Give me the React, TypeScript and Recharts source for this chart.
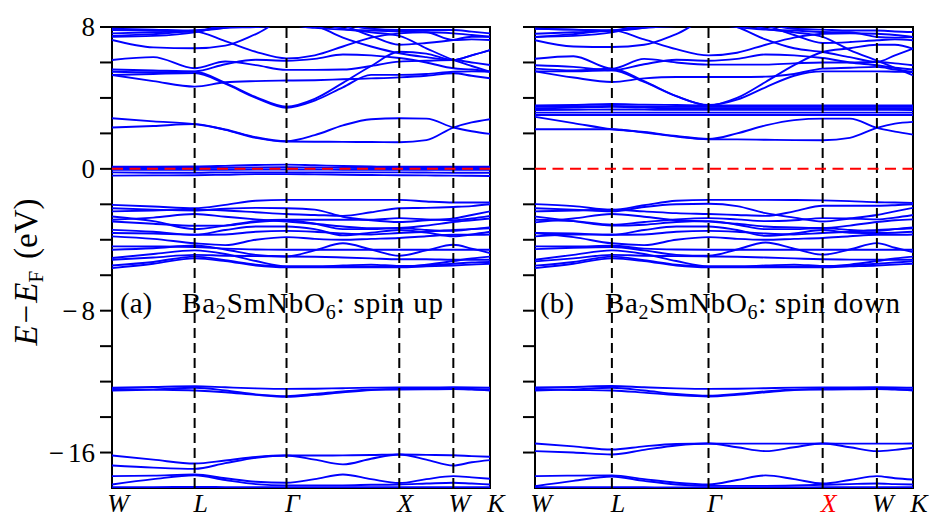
import React from 'react';
import { LineChart, Line, XAxis, YAxis, ReferenceLine, ReferenceArea } from 'recharts';

const FONT = '"Liberation Serif", "DejaVu Serif", serif';
const BLUE = '#0000ff';

// High-symmetry path
const pathLabels = ['W', 'L', 'Γ', 'X', 'W', 'K'];
const pathPosUp = [0, 0.2186, 0.4617, 0.76, 0.903, 1];
const pathPosDown = [0, 0.2034, 0.459, 0.761, 0.9045, 1];
const labelColorsUp = ['#000', '#000', '#000', '#000', '#000', '#000'];
const labelColorsDown = ['#000', '#000', '#000', '#ff0000', '#000', '#000'];
// samples: W, WL/2, L, LΓ 1/3, LΓ 2/3, Γ, ΓX 1/4, 1/2, 3/4, X, XW/2, W, WK/2, K
const segmentSamples = [[0, 0.5], [0, 1 / 3, 2 / 3], [0, 0.25, 0.5, 0.75], [0, 0.5], [0, 0.5]];
const energyTicks = [-16, -14, -12, -10, -8, -6, -4, -2, 0, 2, 4, 6, 8];
const energyDomain = [-18, 8];

// ---------- spin up ----------
const upConduction = [
  [2.33, 2.42, 2.52, 2.2, 1.75, 1.54, 1.53, 1.52, 1.51, 1.5, 1.62, 2.33, 2.62, 2.8],
  [2.85, 2.68, 2.52, 2.22, 1.78, 1.56, 1.9, 2.45, 2.8, 2.85, 2.83, 2.33, 2.12, 1.97],
  [5.48, 5.45, 5.48, 4.85, 4.05, 3.51, 3.95, 4.85, 5.8, 6.6, 6.5, 6.14, 6.4, 6.7],
  [5.29, 5.35, 5.4, 4.8, 4.0, 3.45, 3.85, 4.6, 5.3, 5.3, 5.35, 5.48, 5.5, 5.48],
  [5.29, 4.95, 4.64, 4.88, 4.95, 4.98, 5.0, 5.05, 5.1, 5.16, 5.25, 5.39, 5.25, 5.11],
  [6.14, 6.3, 5.67, 6.05, 5.85, 5.58, 5.58, 5.6, 5.8, 6.05, 6.1, 6.14, 6.0, 5.86],
  [5.6, 5.55, 5.5, 5.9, 6.15, 6.1, 6.2, 6.45, 6.4, 6.25, 6.0, 5.67, 5.6, 5.48],
  [7.27, 6.85, 6.8, 6.95, 7.6, 8.4, 8.1, 7.4, 6.9, 6.52, 6.3, 6.14, 6.4, 6.7],
  [7.5, 7.6, 7.74, 7.2, 6.6, 6.23, 6.4, 6.9, 7.4, 7.64, 7.7, 7.64, 7.55, 7.45],
  [7.83, 7.8, 7.74, 8.2, 8.8, 9.2, 8.8, 8.2, 7.9, 7.83, 7.83, 7.83, 7.74, 7.64],
  [7.64, 7.7, 7.8, 7.95, 8.0, 8.1, 7.95, 7.85, 7.8, 7.75, 7.7, 7.27, 7.3, 7.27],
  [7.45, 7.5, 7.7, 8.1, 8.6, 9.0, 8.6, 8.1, 7.5, 7.0, 7.1, 7.27, 7.45, 7.45],
  [7.9, 7.85, 7.8, 7.95, 8.3, 8.6, 8.3, 7.9, 7.7, 7.5, 6.8, 6.14, 5.8, 5.48],
];
const upFlat = [
  [0.12, 0.12, 0.13, 0.17, 0.22, 0.24, 0.2, 0.16, 0.13, 0.12, 0.12, 0.12, 0.12, 0.12],
  [0.05, 0.05, 0.05, 0.06, 0.08, 0.09, 0.08, 0.06, 0.05, 0.05, 0.05, 0.05, 0.05, 0.05],
  [-0.05, -0.05, -0.05, -0.05, -0.04, -0.04, -0.04, -0.05, -0.05, -0.05, -0.05, -0.05, -0.05, -0.05],
  [-0.2, -0.22, -0.22, -0.2, -0.2, -0.2, -0.2, -0.2, -0.2, -0.2, -0.21, -0.22, -0.22, -0.22],
  [-0.38, -0.37, -0.36, -0.33, -0.3, -0.3, -0.31, -0.33, -0.35, -0.36, -0.37, -0.38, -0.39, -0.4],
];
const upValence = [
  [-2.03, -2.12, -2.22, -2.03, -1.8, -1.75, -1.75, -1.75, -1.75, -1.75, -1.84, -1.9, -1.9, -1.9],
  [-2.22, -2.3, -2.35, -2.25, -2.2, -2.22, -2.3, -2.7, -2.9, -3.0, -2.9, -2.8, -2.6, -2.4],
  [-2.4, -2.35, -2.3, -2.35, -2.45, -2.55, -2.6, -2.65, -2.45, -2.22, -2.2, -2.15, -2.1, -2.0],
  [-2.69, -2.95, -3.4, -3.2, -2.95, -2.87, -2.87, -2.87, -2.87, -2.78, -2.85, -2.9, -2.8, -2.65],
  [-2.87, -2.75, -2.55, -2.7, -2.85, -2.97, -3.1, -3.25, -3.35, -3.34, -3.2, -3.0, -2.9, -2.8],
  [-2.97, -3.1, -3.21, -3.2, -3.0, -2.9, -3.1, -3.4, -3.4, -3.34, -3.45, -3.5, -3.4, -3.3],
  [-3.44, -3.55, -3.72, -3.7, -3.55, -3.5, -3.55, -3.65, -3.7, -3.62, -3.55, -3.45, -3.4, -3.35],
  [-3.62, -3.65, -3.72, -3.45, -3.25, -3.25, -3.4, -3.75, -3.6, -3.45, -3.6, -3.8, -3.7, -3.55],
  [-3.81, -3.95, -4.2, -4.3, -4.0, -3.85, -3.95, -4.0, -3.95, -3.9, -3.8, -3.72, -3.72, -3.7],
  [-4.37, -4.38, -4.41, -4.5, -4.55, -4.56, -4.56, -4.56, -4.56, -4.56, -4.56, -4.56, -4.56, -4.56],
  [-4.56, -4.48, -4.32, -4.55, -4.85, -4.94, -4.6, -4.2, -4.55, -4.9, -4.6, -4.28, -4.5, -4.75],
  [-5.03, -4.8, -4.6, -4.8, -5.2, -5.5, -5.5, -5.5, -5.5, -5.52, -5.4, -5.2, -5.05, -4.95],
  [-5.13, -5.0, -4.85, -4.9, -4.92, -4.94, -4.96, -5.0, -5.05, -5.1, -5.1, -5.13, -5.13, -5.13],
  [-5.45, -5.25, -4.95, -5.15, -5.4, -5.5, -5.5, -5.45, -5.4, -5.48, -5.45, -5.35, -5.28, -5.25],
  [-5.6, -5.35, -5.05, -5.2, -5.45, -5.55, -5.55, -5.55, -5.55, -5.55, -5.5, -5.45, -5.4, -5.35],
];
const upSemicore = [
  [-12.35, -12.3, -12.26, -12.32, -12.38, -12.41, -12.4, -12.37, -12.34, -12.33, -12.33, -12.32, -12.33, -12.35],
  [-12.42, -12.45, -12.5, -12.6, -12.75, -12.86, -12.75, -12.6, -12.47, -12.42, -12.42, -12.4, -12.42, -12.45],
  [-12.5, -12.45, -12.35, -12.5, -12.72, -12.82, -12.7, -12.55, -12.45, -12.45, -12.44, -12.42, -12.45, -12.5],
];
const upDeep = [
  [-16.17, -16.4, -16.62, -16.45, -16.25, -16.17, -16.17, -16.16, -16.14, -16.11, -16.13, -16.15, -16.2, -16.24],
  [-16.73, -16.85, -16.92, -16.6, -16.3, -16.17, -16.4, -16.67, -16.35, -16.11, -16.4, -16.73, -16.55, -16.43],
  [-17.33, -17.3, -17.24, -17.45, -17.65, -17.7, -17.5, -17.24, -17.5, -17.72, -17.5, -17.33, -17.4, -17.48],
  [-17.8, -17.5, -17.28, -17.55, -17.78, -17.85, -17.85, -17.85, -17.82, -17.8, -17.75, -17.7, -17.75, -17.8],
  [-17.95, -17.95, -17.94, -17.95, -17.96, -17.96, -17.96, -17.96, -17.96, -17.95, -17.95, -17.95, -17.95, -17.95],
];

// ---------- spin down ----------
const downConduction = [
  [2.23, 2.23, 2.23, 2.05, 1.82, 1.67, 1.66, 1.64, 1.62, 1.61, 1.75, 2.31, 2.55, 2.65],
  [2.93, 2.58, 2.23, 2.08, 1.85, 1.68, 2.0, 2.45, 2.75, 2.83, 2.83, 2.31, 2.1, 1.93],
  [5.5, 5.5, 5.56, 4.9, 4.1, 3.58, 4.0, 4.9, 5.85, 6.59, 6.8, 7.0, 7.0, 6.78],
  [5.65, 5.55, 5.65, 4.95, 4.1, 3.6, 3.9, 4.6, 5.25, 5.5, 5.5, 5.5, 5.48, 5.46],
  [5.5, 5.15, 4.9, 5.1, 5.18, 5.18, 5.18, 5.2, 5.35, 5.65, 5.7, 5.75, 5.6, 5.46],
  [6.21, 6.35, 5.65, 6.2, 6.0, 5.88, 5.88, 5.88, 5.95, 6.0, 6.0, 6.03, 5.95, 5.84],
  [5.84, 5.75, 5.56, 5.9, 6.15, 6.1, 6.2, 6.45, 6.4, 6.25, 6.0, 5.84, 5.7, 5.6],
  [7.25, 6.9, 6.87, 7.0, 7.6, 8.4, 8.0, 7.3, 6.8, 6.59, 6.3, 6.03, 6.4, 6.78],
  [7.44, 7.6, 7.81, 7.3, 6.75, 6.4, 6.55, 7.0, 7.4, 7.62, 7.65, 7.62, 7.55, 7.44],
  [7.9, 7.85, 7.81, 8.2, 8.8, 9.2, 8.8, 8.2, 7.9, 7.85, 7.8, 7.8, 7.75, 7.72],
  [7.62, 7.7, 7.78, 7.95, 8.05, 8.15, 8.0, 7.85, 7.8, 7.72, 7.7, 7.44, 7.4, 7.44],
  [7.44, 7.5, 7.7, 8.1, 8.6, 9.0, 8.6, 8.1, 7.55, 7.1, 7.15, 7.25, 7.3, 7.25],
  [7.9, 7.85, 7.8, 7.95, 8.3, 8.6, 8.3, 7.9, 7.7, 7.44, 6.7, 6.1, 5.7, 5.28],
];
const downFlat = [
  [3.58, 3.6, 3.66, 3.62, 3.6, 3.58, 3.58, 3.58, 3.58, 3.58, 3.58, 3.58, 3.58, 3.58],
  [3.5, 3.52, 3.55, 3.52, 3.5, 3.5, 3.5, 3.5, 3.5, 3.5, 3.5, 3.5, 3.5, 3.5],
  [3.4, 3.45, 3.5, 3.45, 3.42, 3.42, 3.42, 3.42, 3.42, 3.42, 3.42, 3.42, 3.42, 3.42],
  [3.32, 3.33, 3.35, 3.34, 3.33, 3.33, 3.33, 3.33, 3.33, 3.33, 3.33, 3.33, 3.33, 3.32],
  [3.17, 3.17, 3.17, 3.17, 3.17, 3.17, 3.17, 3.17, 3.17, 3.17, 3.17, 3.17, 3.17, 3.17],
  [3.04, 3.04, 3.04, 3.04, 3.04, 3.04, 3.04, 3.04, 3.04, 3.04, 3.04, 3.04, 3.04, 3.04],
];
const downValence = [
  [-1.99, -2.1, -2.31, -2.05, -1.8, -1.75, -1.75, -1.75, -1.76, -1.78, -1.82, -1.88, -1.9, -1.92],
  [-2.22, -2.3, -2.4, -2.15, -2.0, -1.97, -2.1, -2.5, -2.75, -2.97, -2.8, -2.6, -2.4, -2.2],
  [-2.4, -2.35, -2.31, -2.4, -2.5, -2.55, -2.6, -2.65, -2.4, -2.08, -2.08, -2.08, -2.05, -2.0],
  [-2.87, -2.95, -3.15, -3.0, -2.85, -2.78, -2.85, -2.95, -2.9, -2.78, -2.8, -2.85, -2.75, -2.6],
  [-3.02, -2.8, -2.55, -2.7, -2.9, -2.97, -3.1, -3.25, -3.3, -3.34, -3.2, -3.0, -2.9, -2.85],
  [-2.69, -2.95, -3.2, -3.15, -3.0, -2.95, -3.15, -3.4, -3.4, -3.34, -3.45, -3.5, -3.4, -3.3],
  [-3.62, -3.65, -3.72, -3.7, -3.55, -3.5, -3.55, -3.65, -3.7, -3.62, -3.55, -3.45, -3.4, -3.35],
  [-3.81, -3.7, -3.72, -3.45, -3.25, -3.25, -3.45, -3.78, -3.65, -3.45, -3.6, -3.62, -3.6, -3.55],
  [-3.62, -3.85, -4.2, -4.3, -4.0, -3.85, -3.95, -4.0, -3.95, -3.9, -3.8, -3.72, -3.72, -3.7],
  [-4.37, -4.38, -4.34, -4.5, -4.55, -4.56, -4.56, -4.56, -4.56, -4.56, -4.56, -4.56, -4.56, -4.56],
  [-4.53, -4.45, -4.41, -4.6, -4.85, -4.9, -4.55, -4.15, -4.5, -4.84, -4.55, -4.19, -4.45, -4.7],
  [-5.13, -4.85, -4.6, -4.8, -5.2, -5.5, -5.5, -5.5, -5.5, -5.5, -5.4, -5.2, -5.05, -4.95],
  [-5.22, -5.05, -4.85, -4.9, -4.92, -4.94, -4.96, -5.0, -5.05, -5.1, -5.12, -5.13, -5.13, -5.13],
  [-5.46, -5.25, -4.95, -5.15, -5.4, -5.5, -5.5, -5.45, -5.4, -5.48, -5.45, -5.35, -5.28, -5.22],
  [-5.6, -5.35, -5.05, -5.2, -5.45, -5.55, -5.55, -5.55, -5.55, -5.55, -5.5, -5.45, -5.4, -5.35],
];
const downSemicore = [
  [-12.33, -12.3, -12.25, -12.32, -12.38, -12.41, -12.4, -12.37, -12.34, -12.33, -12.33, -12.32, -12.33, -12.35],
  [-12.42, -12.47, -12.5, -12.62, -12.76, -12.84, -12.74, -12.6, -12.47, -12.42, -12.42, -12.4, -12.42, -12.45],
  [-12.5, -12.44, -12.35, -12.5, -12.7, -12.8, -12.7, -12.55, -12.45, -12.45, -12.44, -12.42, -12.45, -12.5],
];
const downDeep = [
  [-15.49, -15.65, -15.83, -15.65, -15.52, -15.49, -15.5, -15.5, -15.5, -15.49, -15.5, -15.5, -15.5, -15.49],
  [-15.92, -16.0, -16.11, -15.85, -15.6, -15.49, -15.7, -15.92, -15.7, -15.49, -15.7, -15.92, -15.85, -15.73],
  [-17.33, -17.3, -17.29, -17.5, -17.7, -17.8, -17.55, -17.29, -17.5, -17.75, -17.55, -17.33, -17.45, -17.52],
  [-17.9, -17.6, -17.35, -17.6, -17.8, -17.88, -17.88, -17.88, -17.86, -17.82, -17.78, -17.75, -17.78, -17.8],
  [-17.96, -17.96, -17.95, -17.96, -17.97, -17.97, -17.97, -17.97, -17.97, -17.96, -17.96, -17.96, -17.96, -17.96],
];

const upBands = [...upConduction, ...upFlat, ...upValence, ...upSemicore, ...upDeep];
const downBands = [...downConduction, ...downFlat, ...downValence, ...downSemicore, ...downDeep];

function samplePositions(pos: number[]) {
  const out: number[] = [];
  segmentSamples.forEach((fr, i) => {
    fr.forEach((f) => out.push(pos[i] + f * (pos[i + 1] - pos[i])));
  });
  out.push(pos[pos.length - 1]);
  return out;
}

function makeYTick(showLabels: boolean) {
  return (props: any) => {
    const { x, y, payload } = props;
    const v = payload.value;
    const major = v % 8 === 0;
    return (
      <g>
        <line x1={x - 12} x2={x} y1={y} y2={y} stroke="#000" strokeWidth={2} />
        {showLabels && major ? (
          <text x={x - 17} y={y} dy="0.34em" textAnchor="end" fontSize={27} fontFamily={FONT} fill="#000">
            {v < 0 ? (
              <>
                <tspan>{'\u2212'}</tspan>
                <tspan dx={4}>{`${-v}`}</tspan>
              </>
            ) : (
              `${v}`
            )}
          </text>
        ) : null}
      </g>
    );
  };
}

function makeXTick(pos: number[], colors: string[]) {
  return (props: any) => {
    const { x, y, payload } = props;
    let idx = pos.findIndex((p) => Math.abs(p - payload.value) < 1e-6);
    if (idx < 0) idx = 0;
    return (
      <text x={x + 6} y={y + 24} textAnchor="middle" fontSize={26} fontStyle="italic" fontFamily={FONT} fill={colors[idx]}>
        {pathLabels[idx]}
      </text>
    );
  };
}

type PanelProps = {
  left: number;
  width: number;
  rightMargin: number;
  axisWidth: number;
  pos: number[];
  bands: number[][];
  showLabels: boolean;
  colors: string[];
};

function Panel({ left, width, rightMargin, axisWidth, pos, bands, showLabels, colors }: PanelProps) {
  const kx = samplePositions(pos);
  const rows = kx.map((k, j) => {
    const r: any = { k };
    bands.forEach((b, i) => {
      r['b' + i] = b[j];
    });
    return r;
  });
  return (
    <div style={{ position: 'absolute', left, top: 0 }}>
      <LineChart width={width} height={525} data={rows} margin={{ top: 27, right: rightMargin, bottom: 0, left: 0 }}>
        <XAxis
          dataKey="k"
          type="number"
          domain={[0, 1]}
          ticks={pos}
          interval={0}
          height={37}
          axisLine={false}
          tickLine={false}
          tickSize={0}
          tickMargin={0}
          tick={makeXTick(pos, colors)}
          allowDataOverflow
        />
        <YAxis
          type="number"
          domain={energyDomain}
          ticks={energyTicks}
          interval={0}
          width={axisWidth}
          axisLine={false}
          tickLine={false}
          tickSize={0}
          tickMargin={0}
          tick={makeYTick(showLabels)}
          allowDataOverflow
        />
        {bands.map((_, i) => (
          <Line
            key={'b' + i}
            dataKey={'b' + i}
            type="monotone"
            stroke={BLUE}
            strokeWidth={1.9}
            dot={false}
            activeDot={false}
            isAnimationActive={false}
          />
        ))}
        {pos.slice(1, 5).map((p, i) => (
          <ReferenceLine key={'v' + i} x={p} stroke="#000" strokeWidth={2} strokeDasharray="10 5" />
        ))}
        <ReferenceLine y={0} stroke="#ff0000" strokeWidth={2} strokeDasharray="11 6.5" />
        <ReferenceArea x1={0} x2={1} y1={-18} y2={8} fill="none" fillOpacity={0} stroke="#000" strokeWidth={2} />
      </LineChart>
    </div>
  );
}

export default function App() {
  return (
    <div style={{ position: 'absolute', left: 0, top: 0, width: 938, height: 525, background: '#fff', overflow: 'hidden' }}>
      <Panel left={0} width={525} rightMargin={35} axisWidth={112} pos={pathPosUp} bands={upBands} showLabels={true} colors={labelColorsUp} />
      <Panel left={440} width={498} rightMargin={25} axisWidth={95} pos={pathPosDown} bands={downBands} showLabels={false} colors={labelColorsDown} />
      <svg width={938} height={525} style={{ position: 'absolute', left: 0, top: 0, pointerEvents: 'none' }}>
        <text transform="translate(37,272) rotate(-90)" textAnchor="middle" fontSize={33} fontFamily={FONT} fill="#000">
          <tspan fontStyle="italic">E</tspan>
          <tspan dx={2}>{'\u2212'}</tspan>
          <tspan dx={2} fontStyle="italic">E</tspan>
          <tspan fontSize={21} dy={6}>F</tspan>
          <tspan dy={-6} dx={12}>(eV)</tspan>
        </text>
        <text x={120} y={313} fontSize={29} fontFamily={FONT} fill="#000">(a)</text>
        <text x={182} y={313} fontSize={29} fontFamily={FONT} fill="#000" textLength={261} lengthAdjust="spacing">
          <tspan>Ba</tspan>
          <tspan fontSize={20} dy={6}>2</tspan>
          <tspan dy={-6}>SmNbO</tspan>
          <tspan fontSize={20} dy={6}>6</tspan>
          <tspan dy={-6}>: spin up</tspan>
        </text>
        <text x={540} y={313} fontSize={29} fontFamily={FONT} fill="#000">(b)</text>
        <text x={605} y={313} fontSize={29} fontFamily={FONT} fill="#000" textLength={295} lengthAdjust="spacing">
          <tspan>Ba</tspan>
          <tspan fontSize={20} dy={6}>2</tspan>
          <tspan dy={-6}>SmNbO</tspan>
          <tspan fontSize={20} dy={6}>6</tspan>
          <tspan dy={-6}>: spin down</tspan>
        </text>
      </svg>
    </div>
  );
}
